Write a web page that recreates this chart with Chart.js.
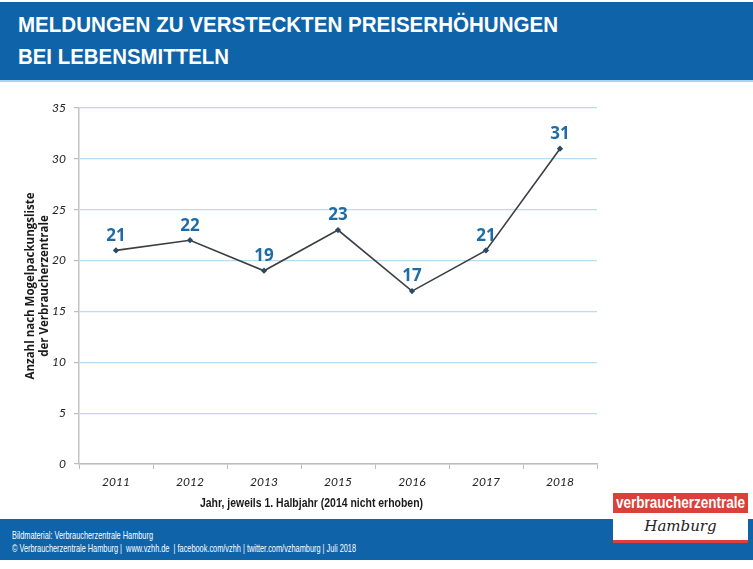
<!DOCTYPE html>
<html>
<head>
<meta charset="utf-8">
<script src="https://cdn.jsdelivr.net/npm/chart.js@4"></script>
<style>
  html, body { margin:0; padding:0; background:#fff; }
  body { width:753px; height:569px; position:relative; overflow:hidden; font-family:"Liberation Sans",sans-serif; }
  .fit { display:inline-block; white-space:nowrap; transform-origin:0 50%; }
  #header { position:absolute; left:0; top:2px; width:753px; height:78px; background:#0f63a8; border-bottom:2px solid #a8d4ef; }
  #header .t { position:absolute; left:18px; color:#fff; font-family:"Liberation Sans",sans-serif; font-weight:bold; font-size:22px; line-height:24px; }
  #chartbox { position:absolute; left:0; top:84px; width:620px; height:436px; }
  #xtitle { position:absolute; left:200px; top:495px; font-family:"Liberation Sans",sans-serif; font-weight:bold; font-size:12.5px; line-height:16px; color:#1a1a1a; }
  #footer { position:absolute; left:0; top:519px; width:753px; height:41px; background:#0f63a8; }
  #footer .l { position:absolute; left:12px; color:#fff; font-size:11.5px; line-height:13px; }
  #logo { position:absolute; left:613px; top:493px; width:135px; }
  #logo .red { background:#d9413a; color:#fff; height:20px; line-height:20px; padding-left:3px; }
  #logo .red span { font-family:"Liberation Sans",sans-serif; font-weight:bold; font-size:17px; }
  #logo .white { background:#fff; height:27px; border-bottom:3px solid #d9413a; text-align:center; font-family:"DejaVu Serif",serif; font-style:italic; font-size:15px; line-height:27px; color:#222; }
</style>
</head>
<body>
<div id="header">
  <span class="t fit" style="top:11px" data-w="540">MELDUNGEN ZU VERSTECKTEN PREISERHÖHUNGEN</span>
  <span class="t fit" style="top:43px" data-w="211">BEI LEBENSMITTELN</span>
</div>
<div id="chartbox"><canvas id="c"></canvas></div>
<span id="xtitle" class="fit" data-w="223">Jahr, jeweils 1. Halbjahr (2014 nicht erhoben)</span>
<div id="footer">
  <span class="l fit" style="top:10px" data-w="141">Bildmaterial: Verbraucherzentrale Hamburg</span>
  <span class="l fit" style="top:23px" data-w="344">© Verbraucherzentrale Hamburg |&nbsp; www.vzhh.de &nbsp;| facebook.com/vzhh | twitter.com/vzhamburg | Juli 2018</span>
</div>
<div id="logo"><div class="red"><span class="fit" data-w="129">verbraucherzentrale</span></div><div class="white">Hamburg</div></div>
<script>
document.querySelectorAll('.fit').forEach(el => {
  const target = parseFloat(el.dataset.w);
  const w = el.getBoundingClientRect().width;
  if (w > 0) el.style.transform = 'scaleX(' + (target / w) + ')';
});

const years = ["2011", "2012", "2013", "2015", "2016", "2017", "2018"];
const meldungen = [21, 22, 19, 23, 17, 21, 31];
const yTicks = [0, 5, 10, 15, 20, 25, 30, 35];
const yTitle = ["Anzahl nach Mogelpackungsliste", "der Verbraucherzentrale"];

const labelPlugin = {
  id: 'valueLabels',
  afterDatasetsDraw(chart) {
    const ctx = chart.ctx;
    const meta = chart.getDatasetMeta(0);
    ctx.save();
    ctx.font = 'bold 17px "Open Sans", sans-serif';
    ctx.fillStyle = '#1e6ca6';
    ctx.textAlign = 'center';
    ctx.textBaseline = 'bottom';
    meta.data.forEach((pt, i) => {
      ctx.fillText(String(meldungen[i]), pt.x, pt.y - 6);
    });
    ctx.restore();
  }
};

new Chart(document.getElementById('c'), {
  type: 'line',
  data: {
    labels: years,
    datasets: [{
      data: meldungen,
      borderColor: '#3b3f44',
      borderWidth: 1.6,
      pointRadius: 2,
      pointStyle: 'rectRot',
      pointBackgroundColor: '#2b4a66',
      pointBorderColor: '#2b4a66',
      tension: 0
    }]
  },
  options: {
    responsive: true,
    maintainAspectRatio: false,
    animation: false,
    layout: { padding: { left: 0, right: 23, top: 24, bottom: 0 } },
    plugins: { legend: { display: false }, tooltip: { enabled: false } },
    scales: {
      x: {
        offset: true,
        afterFit(s) { s.height = 56; },
        grid: { offset: true, drawOnChartArea: false, drawTicks: true, tickLength: 5, tickColor: '#bdbdbd', color: '#bdbdbd' },
        border: { color: '#bdbdbd', width: 1.5 },
        ticks: { padding: 6, color: '#222', font: { family: 'Lato, sans-serif', style: 'italic', size: 12 } }
      },
      y: {
        min: 0, max: 35,
        afterFit(s) { s.width = 79; },
        afterBuildTicks(s) { s.ticks = yTicks.map(v => ({ value: v })); },
        grid: { color: '#b9dcf1', lineWidth: 1.2, tickColor: '#bdbdbd', tickLength: 5 },
        border: { color: '#c4c4c4', width: 1.5 },
        ticks: { padding: 8, color: '#222', font: { family: 'Lato, sans-serif', style: 'italic', size: 12 } },
        title: { display: true, text: yTitle, color: '#1a1a1a', padding: { top: 24, bottom: 0 }, font: { family: '"Open Sans", sans-serif', weight: 'bold', size: 11.5, lineHeight: 1.2 } }
      }
    }
  },
  plugins: [labelPlugin]
});
</script>
</body>
</html>
